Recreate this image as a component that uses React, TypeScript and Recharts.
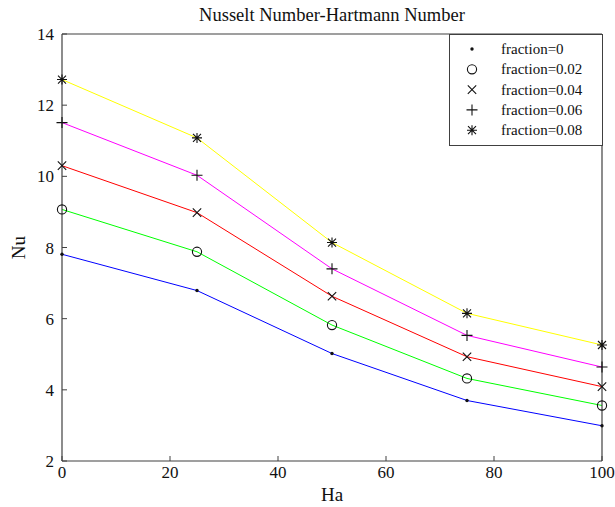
import React from 'react';
import { LineChart, Line, XAxis, YAxis, Label } from 'recharts';

// Hartmann number samples
const haValues = [0, 25, 50, 75, 100];

// Nusselt number for each nanoparticle volume fraction
const nuFraction0 = [7.81, 6.79, 5.02, 3.7, 2.99];
const nuFraction002 = [9.07, 7.88, 5.82, 4.32, 3.56];
const nuFraction004 = [10.3, 8.98, 6.63, 4.93, 4.09];
const nuFraction006 = [11.51, 10.03, 7.4, 5.53, 4.64];
const nuFraction008 = [12.72, 11.08, 8.14, 6.15, 5.26];

const seriesNames = ['fraction=0', 'fraction=0.02', 'fraction=0.04', 'fraction=0.06', 'fraction=0.08'];
const xTicks = [0, 20, 40, 60, 80, 100];
const yTicks = [2, 4, 6, 8, 10, 12, 14];

const FONT = '"Liberation Serif", "Times New Roman", serif';
const AXIS_COLOR = '#404040';

type MarkerKind = 'dot' | 'circle' | 'cross' | 'plus' | 'star';

const series: { key: string; name: string; color: string; marker: MarkerKind; values: number[] }[] = [
  { key: 'f0', name: seriesNames[0], color: '#0000ff', marker: 'dot', values: nuFraction0 },
  { key: 'f002', name: seriesNames[1], color: '#00ff00', marker: 'circle', values: nuFraction002 },
  { key: 'f004', name: seriesNames[2], color: '#ff0000', marker: 'cross', values: nuFraction004 },
  { key: 'f006', name: seriesNames[3], color: '#ff00ff', marker: 'plus', values: nuFraction006 },
  { key: 'f008', name: seriesNames[4], color: '#ffff00', marker: 'star', values: nuFraction008 },
];

const data = haValues.map((ha, i) => {
  const row: Record<string, number> = { ha };
  series.forEach((s) => {
    row[s.key] = s.values[i];
  });
  return row;
});

function Marker({ kind, cx, cy }: { kind: MarkerKind; cx: number; cy: number }) {
  const stroke = '#111';
  switch (kind) {
    case 'dot':
      return <circle cx={cx} cy={cy} r={1.7} fill={stroke} />;
    case 'circle':
      return <circle cx={cx} cy={cy} r={4.6} fill="none" stroke={stroke} strokeWidth={1.1} />;
    case 'cross': {
      const d = 4.2;
      return (
        <path
          d={`M${cx - d},${cy - d}L${cx + d},${cy + d}M${cx - d},${cy + d}L${cx + d},${cy - d}`}
          stroke={stroke}
          strokeWidth={1.1}
          fill="none"
        />
      );
    }
    case 'plus': {
      const d = 5.5;
      return (
        <path d={`M${cx - d},${cy}L${cx + d},${cy}M${cx},${cy - d}L${cx},${cy + d}`} stroke={stroke} strokeWidth={1.1} fill="none" />
      );
    }
    case 'star': {
      const d = 5;
      const e = 4;
      return (
        <path
          d={`M${cx},${cy - d}L${cx},${cy + d}M${cx - d},${cy}L${cx + d},${cy}M${cx - e},${cy - e}L${cx + e},${cy + e}M${cx - e},${cy + e}L${cx + e},${cy - e}`}
          stroke={stroke}
          strokeWidth={1.1}
          fill="none"
        />
      );
    }
  }
  return null;
}

function LegendBox() {
  const rowGap = 20.3;
  return (
    <svg width={154} height={112} style={{ display: 'block' }}>
      <rect x={0.5} y={0.5} width={153} height={111} fill="#fff" stroke={AXIS_COLOR} strokeWidth={1} />
      {series.map((s, i) => {
        const cy = 15 + i * rowGap;
        return (
          <g key={s.key}>
            <Marker kind={s.marker} cx={23} cy={cy} />
            <text x={52} y={cy} dominantBaseline="central" fontFamily={FONT} fontSize={15} fill="#111">
              {s.name}
            </text>
          </g>
        );
      })}
    </svg>
  );
}

export default function App() {
  return (
    <div style={{ position: 'absolute', left: 0, top: 0, width: 615, height: 507, background: '#fff' }}>
      <LineChart width={615} height={507} data={data} margin={{ top: 0, right: 0, bottom: 0, left: 0 }}>
        <XAxis
          xAxisId="bottom"
          dataKey="ha"
          type="number"
          domain={[0, 100]}
          ticks={xTicks}
          height={46}
          stroke={AXIS_COLOR}
          tickSize={-5}
          tickMargin={10}
          tick={{ fontFamily: FONT, fontSize: 17, fill: '#111' }}
          axisLine={{ stroke: AXIS_COLOR, strokeWidth: 1.2 }}
        >
          <Label value="Ha" position="insideBottom" offset={6} style={{ fontFamily: FONT, fontSize: 19, fill: '#111' }} />
        </XAxis>
        <XAxis
          xAxisId="top"
          orientation="top"
          type="number"
          domain={[0, 100]}
          ticks={xTicks}
          height={34}
          stroke={AXIS_COLOR}
          tickSize={-5}
          tick={false}
          axisLine={{ stroke: AXIS_COLOR, strokeWidth: 1.2 }}
        />
        <YAxis
          yAxisId="left"
          type="number"
          domain={[2, 14]}
          ticks={yTicks}
          width={62}
          stroke={AXIS_COLOR}
          tickSize={-5}
          tickMargin={13}
          tick={{ fontFamily: FONT, fontSize: 17, fill: '#111' }}
          axisLine={{ stroke: AXIS_COLOR, strokeWidth: 1.2 }}
        >
          <Label
            content={(props: any) => {
              const vb = props.viewBox || { x: 0, y: 0, width: 62, height: 427 };
              const x = vb.x + 18;
              const y = vb.y + vb.height / 2;
              return (
                <text
                  x={x}
                  y={y}
                  transform={`rotate(-90 ${x} ${y})`}
                  textAnchor="middle"
                  dominantBaseline="central"
                  fontFamily={FONT}
                  fontSize={19}
                  fill="#111"
                >
                  Nu
                </text>
              );
            }}
          />
        </YAxis>
        <YAxis
          yAxisId="right"
          orientation="right"
          type="number"
          domain={[2, 14]}
          ticks={yTicks}
          width={13}
          stroke={AXIS_COLOR}
          tickSize={-5}
          tick={false}
          axisLine={{ stroke: AXIS_COLOR, strokeWidth: 1.2 }}
        />
        {series.map((s) => (
          <Line
            key={s.key}
            xAxisId="bottom"
            yAxisId="left"
            dataKey={s.key}
            name={s.name}
            type="linear"
            stroke={s.color}
            strokeWidth={1}
            isAnimationActive={false}
            dot={(p: any) => <Marker key={`${s.key}-${p.index}`} kind={s.marker} cx={p.cx} cy={p.cy} />}
            activeDot={false}
          />
        ))}
      </LineChart>
      <div
        style={{
          position: 'absolute',
          left: 0,
          top: 4,
          width: 664,
          textAlign: 'center',
          fontFamily: FONT,
          fontSize: 18.5,
          color: '#111',
          lineHeight: '22px',
        }}
      >
        Nusselt Number-Hartmann Number
      </div>
      <div style={{ position: 'absolute', left: 449, top: 34 }}>
        <LegendBox />
      </div>
    </div>
  );
}
